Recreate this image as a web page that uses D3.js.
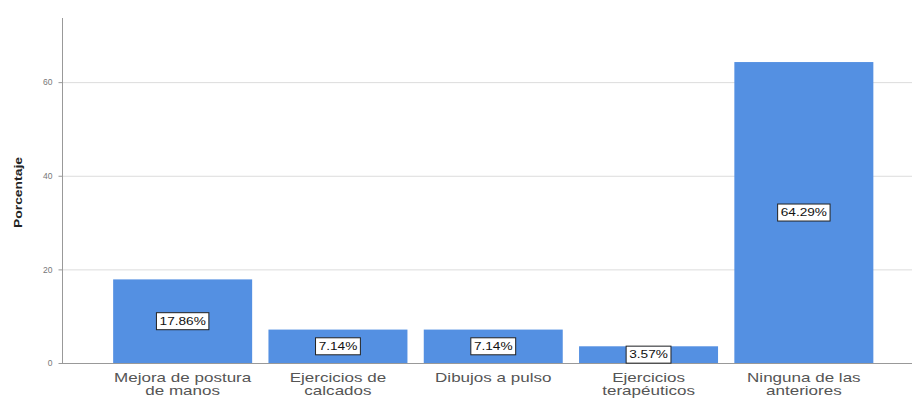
<!DOCTYPE html>
<html><head><meta charset="utf-8">
<script src="https://cdn.jsdelivr.net/npm/d3@7"></script>
<style>body{margin:0;background:#fff}svg{display:block}</style>
</head><body>
<svg id="c" width="912" height="401"></svg>
<script>
const categories = [["Mejora de postura","de manos"],["Ejercicios de","calcados"],["Dibujos a pulso"],["Ejercicios","terapéuticos"],["Ninguna de las","anteriores"]];
const values = [17.86, 7.14, 7.14, 3.57, 64.29];
const valueLabels = ["17.86%","7.14%","7.14%","3.57%","64.29%"];
const yTicks = [0, 20, 40, 60];
const yTitle = "Porcentaje";

const FONT = "Liberation Sans, Arial, sans-serif";
const svg = d3.select("#c");
const y = d3.scaleLinear().domain([0, 73.7]).range([363, 18]);
const x = d3.scaleBand().domain(d3.range(values.length)).range([105, 881.5]).paddingInner(0.105).paddingOuter(0.0525);

// gridlines
svg.append("g").selectAll("line").data(yTicks.filter(d=>d>0)).join("line")
  .attr("x1", 62).attr("x2", 912).attr("y1", d=>y(d)+0.5).attr("y2", d=>y(d)+0.5)
  .attr("stroke", "#dcdcdc").attr("stroke-width", 1);

// bars
svg.append("g").selectAll("rect").data(values).join("rect")
  .attr("x", (d,i)=>x(i)).attr("width", x.bandwidth())
  .attr("y", d=>y(d)).attr("height", d=>y(0)-y(d))
  .attr("fill", "#5490e2");

// y axis
const yAxis = d3.axisLeft(y).tickValues(yTicks).tickSize(4).tickPadding(6).tickFormat(d3.format("d"));
const ga = svg.append("g").attr("transform","translate(62.5,0)").call(yAxis);
ga.select(".domain").attr("stroke","#999").attr("d", `M0,${y(73.7)}V${y(0)+0.5}`);
ga.selectAll(".tick line").attr("stroke","#999");
ga.selectAll(".tick text").attr("fill","#777").style("font-family",FONT).style("font-size","8.5px");

// baseline
svg.append("line").attr("x1",62).attr("x2",912).attr("y1",y(0)+0.5).attr("y2",y(0)+0.5).attr("stroke","#999");

// y title
svg.append("text").attr("transform",`translate(22,${(y(0)+y(73.7))/2+2}) rotate(-90)`)
  .attr("text-anchor","middle").attr("fill","#222")
  .attr("textLength",71).attr("lengthAdjust","spacingAndGlyphs")
  .style("font-family",FONT).style("font-size","11.5px").style("font-weight","bold")
  .text(yTitle);

// category labels (horizontally stretched like the reference)
const cg = svg.append("g").selectAll("g").data(categories).join("g")
  .attr("transform",(d,i)=>`translate(${x(i)+x.bandwidth()/2},382) scale(1.42,1)`);
cg.append("text").attr("text-anchor","middle").attr("fill","#555")
  .style("font-family",FONT).style("font-size","12px")
  .selectAll("tspan").data(d=>d).join("tspan")
  .attr("x",0).attr("y",(d,i)=>i*13).text(d=>d);

// value labels
const vl = svg.append("g").selectAll("g").data(values).join("g")
  .attr("transform",(d,i)=>`translate(${x(i)+x.bandwidth()/2},${(y(d)+y(0))/2})`);
const inner = vl.append("g").attr("transform","scale(1.3,1)");
inner.append("text").attr("text-anchor","middle").attr("dy","0.36em")
  .attr("fill","#111").style("font-family",FONT).style("font-size","10.5px")
  .text((d,i)=>valueLabels[i]);
vl.each(function(){
  const g = d3.select(this);
  const b = g.select("text").node().getBBox();
  const w = b.width*1.3 + 6;
  g.insert("rect","g").attr("x",-w/2).attr("y",-8.5).attr("width",w).attr("height",17)
    .attr("fill","#fff").attr("stroke","#222").attr("stroke-width",1);
});
</script>
</body></html>
